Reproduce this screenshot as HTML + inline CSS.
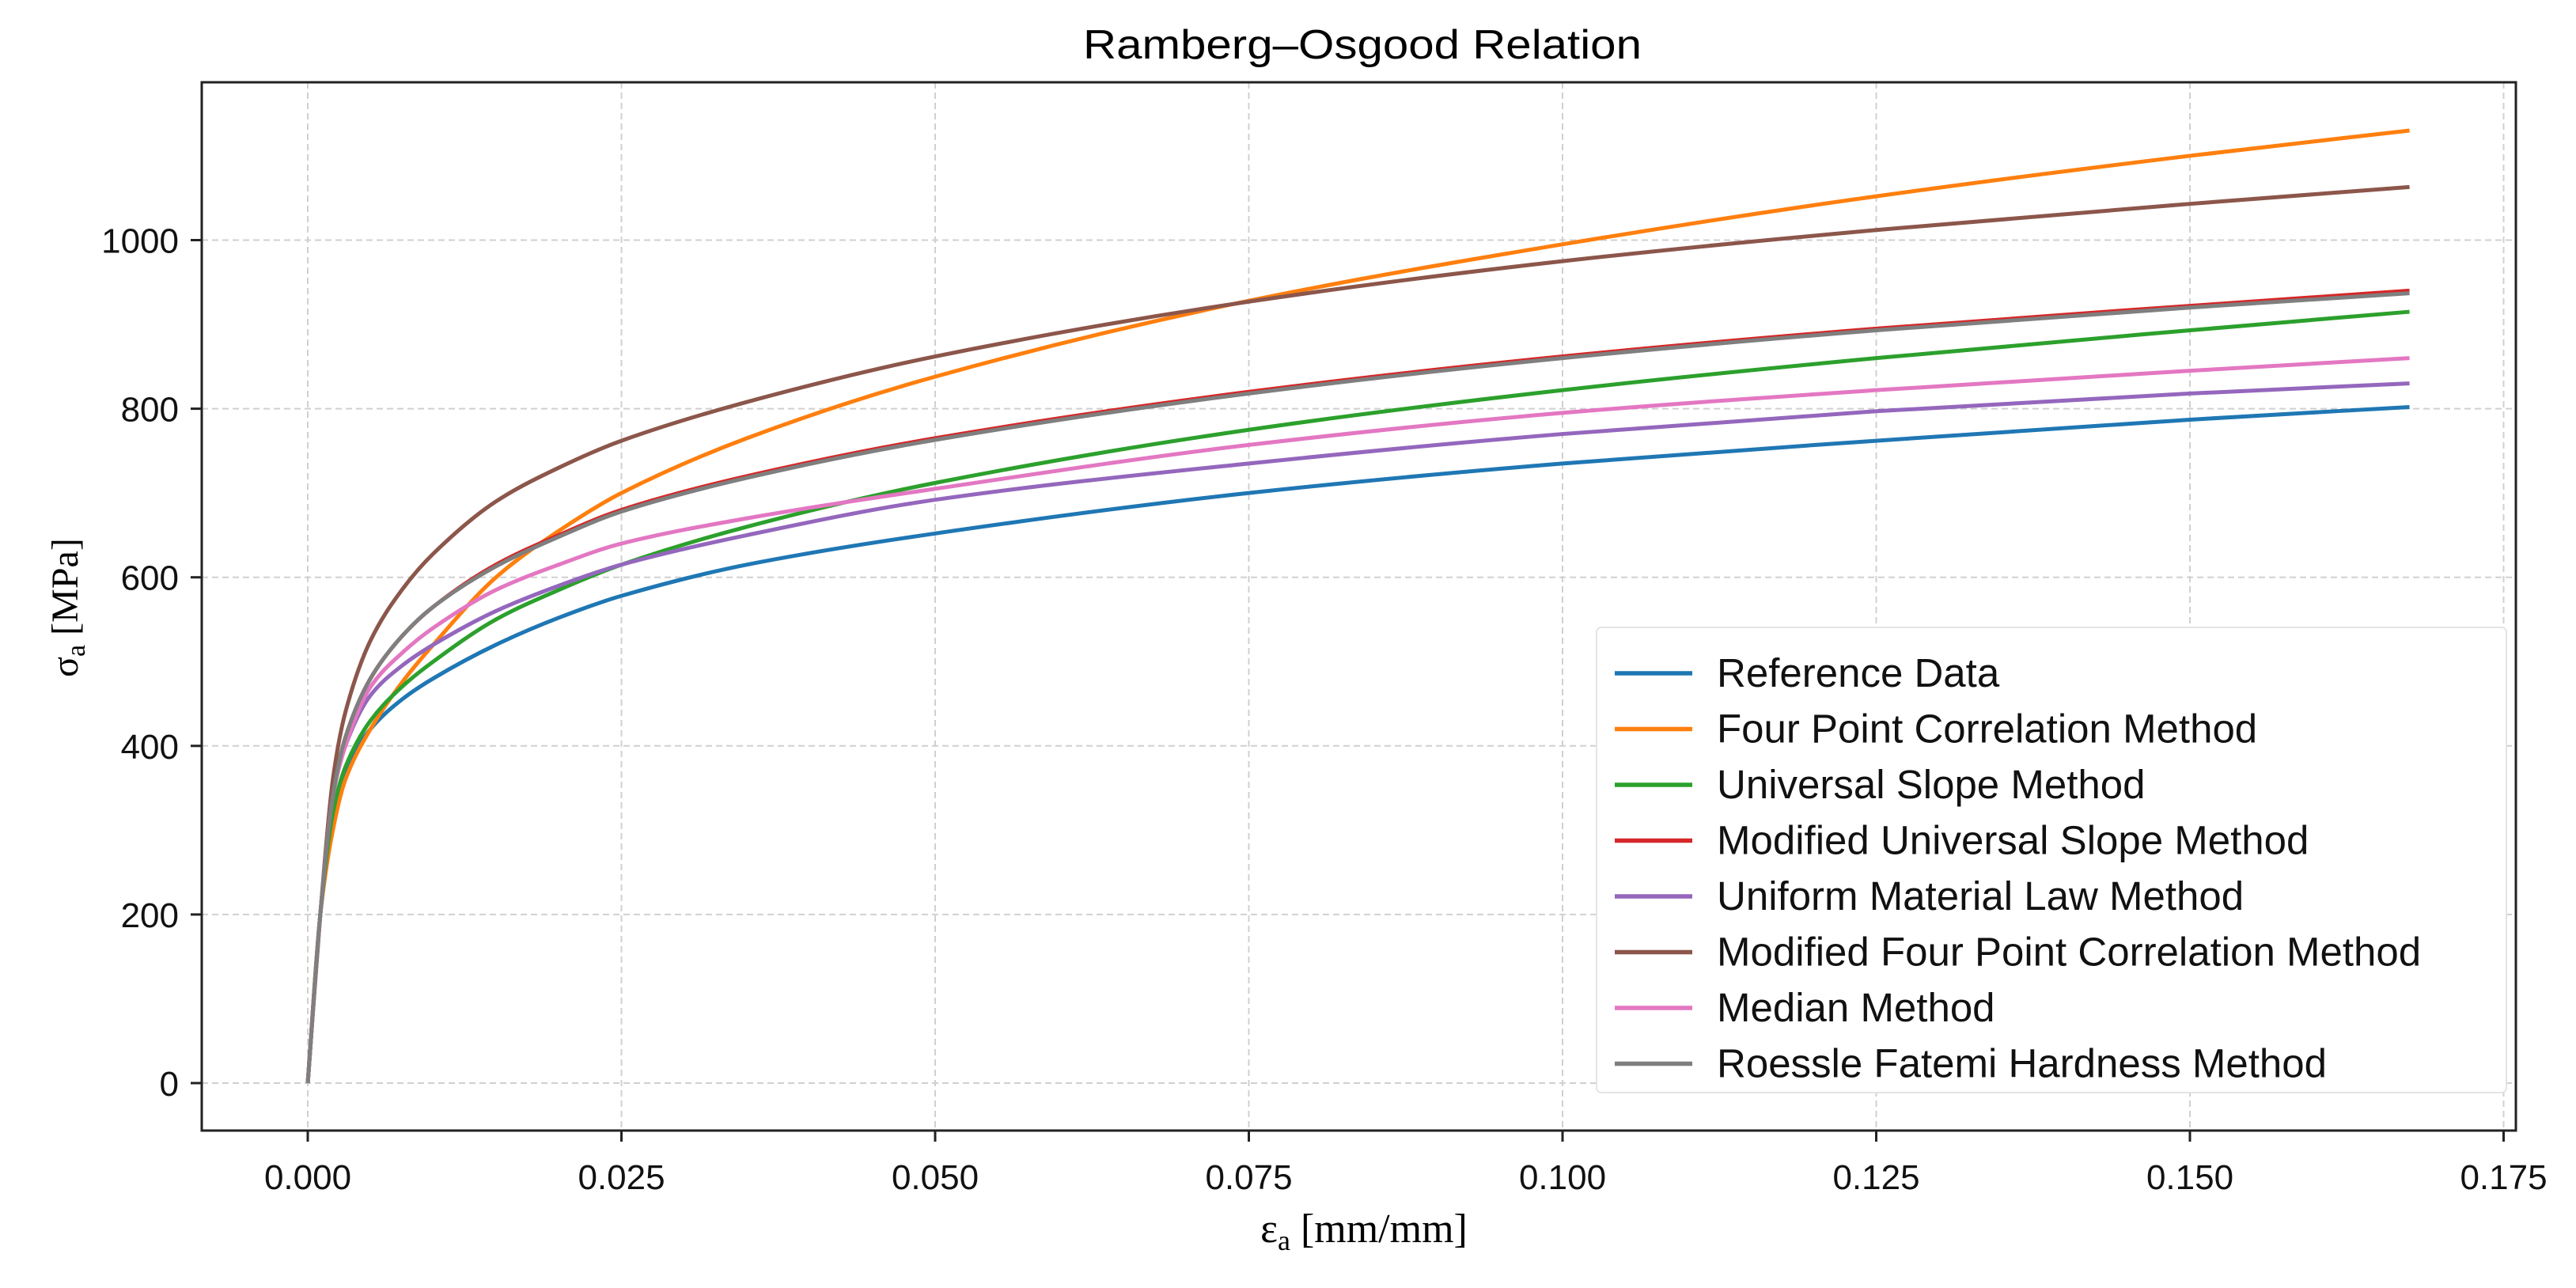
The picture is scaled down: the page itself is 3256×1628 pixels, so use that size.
<!DOCTYPE html>
<html><head><meta charset="utf-8"><style>
html,body{margin:0;padding:0;background:#fff;}
svg{display:block;}
</style></head><body>
<svg id="chart" width="3256" height="1628" viewBox="0 0 3256 1628" xmlns="http://www.w3.org/2000/svg" font-family="Liberation Sans, sans-serif">
<rect width="3256" height="1628" fill="#fff"/>
<text x="1722" y="74" font-size="52" text-anchor="middle" fill="#000" textLength="706" lengthAdjust="spacingAndGlyphs">Ramberg–Osgood Relation</text>
<g id="grid"></g>
<g id="ticks"></g>
<g id="series"></g>
<rect x="255" y="104" width="2925" height="1325" fill="none" stroke="#222" stroke-width="3"/>
<text x="1724" y="1570" font-size="52" text-anchor="middle" font-family="Liberation Serif, serif">ε<tspan font-size="36" dy="10">a</tspan><tspan dy="-10"> [mm/mm]</tspan></text>
<text transform="translate(98,768) rotate(-90)" font-size="48" text-anchor="middle" font-family="Liberation Serif, serif">σ<tspan font-size="34" dy="9">a</tspan><tspan dy="-9"> [MPa]</tspan></text>
<g id="legend"></g>
</svg>
<script>
const xTicks = [0, 0.025, 0.05, 0.075, 0.1, 0.125, 0.15, 0.175];
const xTickLabels = ["0.000","0.025","0.050","0.075","0.100","0.125","0.150","0.175"];
const yTicks = [0, 200, 400, 600, 800, 1000];
const strain = [0,0.001,0.002,0.003,0.005,0.0075,0.01,0.015,0.02,0.025,0.035,0.05,0.075,0.1,0.125,0.15,0.1675];
const seriesNames = ["Reference Data","Four Point Correlation Method","Universal Slope Method","Modified Universal Slope Method","Uniform Material Law Method","Modified Four Point Correlation Method","Median Method","Roessle Fatemi Hardness Method"];
const seriesColors = ["#1f77b4","#ff7f0e","#2ca02c","#d62728","#9467bd","#8c564b","#e377c2","#7f7f7f"];
const refData     = [0,200,320,370,420,455,480,520,552,578,615,652,700,735,762,787,802];
const fourPoint   = [0,200,300,360,420,475,520,600,655,700,765,838,928,995,1052,1100,1130];
const univSlope   = [0,200,320,375,430,470,500,550,585,615,660,712,775,822,860,893,915];
const modUniv     = [0,200,340,410,480,530,565,615,650,680,720,765,820,862,895,922,940];
const uniformMat  = [0,200,340,400,460,495,520,560,590,615,650,692,735,770,797,818,830];
const modFour     = [0,200,360,440,525,585,628,690,730,762,808,862,927,975,1012,1043,1063];
const median      = [0,200,340,400,470,510,540,585,615,640,670,705,757,795,822,845,860];
const roessle     = [0,200,340,410,480,530,565,613,648,678,718,763,818,860,893,920,937];
const allSeries = [refData,fourPoint,univSlope,modUniv,uniformMat,modFour,median,roessle];

const NS="http://www.w3.org/2000/svg";
const X = v => 389 + v/0.025*396.5;
const Y = v => 1369 - v*1.0655;
function mk(tag, attrs, parent){const e=document.createElementNS(NS,tag);for(const k in attrs)e.setAttribute(k,attrs[k]);parent.appendChild(e);return e;}
const grid=document.getElementById('grid'), ticks=document.getElementById('ticks'), ser=document.getElementById('series'), leg=document.getElementById('legend');

xTicks.forEach((t,i)=>{
  const gl=mk('line',{x1:X(t),x2:X(t),y1:104,y2:1429,stroke:'#d0d0d0','stroke-width':2,'stroke-dasharray':'8 5'},grid);
  
  
  mk('line',{x1:X(t),x2:X(t),y1:1429,y2:1443,stroke:'#222','stroke-width':3},ticks);
  const tx=mk('text',{x:X(t),y:1503,'font-size':44,'text-anchor':'middle',fill:'#111'},ticks);
  tx.textContent=xTickLabels[i];
  
  
});
yTicks.forEach(t=>{
  const gl=mk('line',{x1:255,x2:3180,y1:Y(t),y2:Y(t),stroke:'#d0d0d0','stroke-width':2,'stroke-dasharray':'8 5'},grid);
  
  
  mk('line',{x1:241,x2:255,y1:Y(t),y2:Y(t),stroke:'#222','stroke-width':3},ticks);
  const tx=mk('text',{x:226,y:Y(t)+16,'font-size':44,'text-anchor':'end',fill:'#111'},ticks);
  tx.textContent=String(t);
  
  
});

function smoothPath(xs,ys){
  const n=xs.length, d=[], m=new Array(n);
  for(let i=0;i<n-1;i++) d.push((ys[i+1]-ys[i])/(xs[i+1]-xs[i]));
  m[0]=d[0]; m[n-1]=d[n-2];
  for(let i=1;i<n-1;i++){ m[i]=(d[i-1]*d[i]<=0)?0:2/(1/d[i-1]+1/d[i]); }
  let p='M'+xs[0]+' '+ys[0];
  for(let i=0;i<n-1;i++){const h=xs[i+1]-xs[i];
    p+=' C'+(xs[i]+h/3)+' '+(ys[i]+m[i]*h/3)+' '+(xs[i+1]-h/3)+' '+(ys[i+1]-m[i+1]*h/3)+' '+xs[i+1]+' '+ys[i+1];}
  return p;
}
allSeries.forEach((vals,si)=>{
  const xs=strain.map(X), ys=vals.map(Y);
  const path=mk('path',{d:smoothPath(xs,ys),fill:'none',stroke:seriesColors[si],'stroke-width':5,'stroke-linejoin':'round'},ser);
  
  
});

const box=mk('rect',{x:2018,y:793,width:1150,height:588,fill:'#fff',stroke:'#e4e4e4','stroke-width':2,rx:6},leg);


seriesNames.forEach((nm,i)=>{
  const y=851+i*70.5;
  const ln=mk('line',{x1:2041,x2:2139,y1:y,y2:y,stroke:seriesColors[i],'stroke-width':5.5},leg);
  
  
  const tx=mk('text',{x:2170,y:y+17,'font-size':51,fill:'#111'},leg);
  tx.textContent=nm;
  
  
});
</script>
</body></html>
